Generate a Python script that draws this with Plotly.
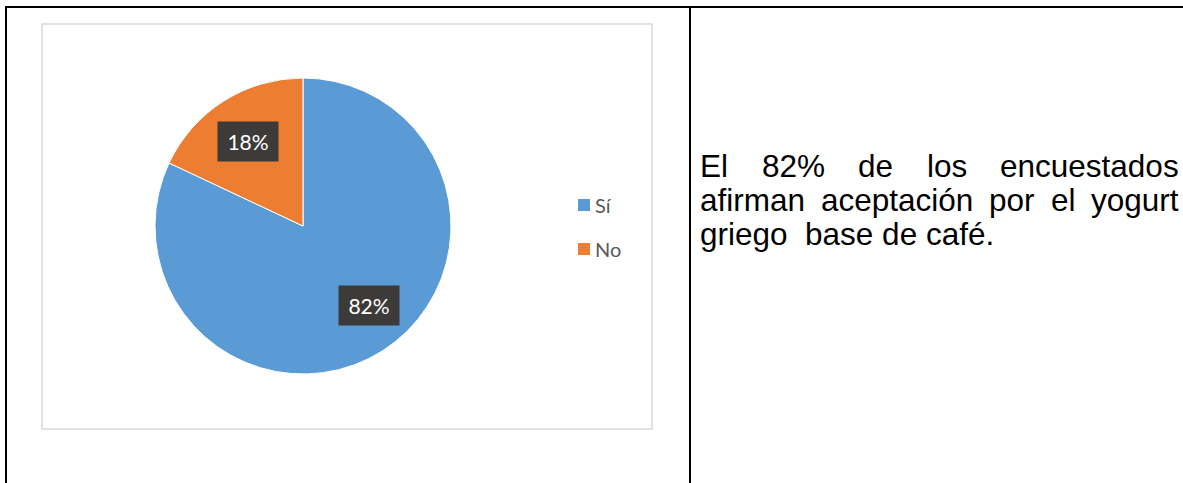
import plotly.graph_objects as go

W, H = 1183, 483

labels = ["Sí", "No"]
values = [82, 18]
colors = ["#5B9BD5", "#ED7D31"]

line1 = ["El", "82%", "de", "los", "encuestados"]
line2 = ["afirman", "aceptación", "por", "el", "yogurt"]
line3 = "griego  base de café."

# Arial / Liberation Sans advance widths (1/1000 em) for justifying the text
ARIAL = {
    "a": 556, "b": 556, "c": 500, "d": 556, "e": 556, "f": 278, "g": 556,
    "i": 222, "l": 222, "m": 833, "n": 556, "o": 556, "p": 556, "r": 333,
    "s": 500, "t": 278, "u": 556, "y": 500, "ó": 556, "é": 556, "E": 667,
    "8": 556, "2": 556, "%": 889, ".": 278, " ": 278,
}

# layout constants (pixels)
cx, cy, radius = 303, 226, 148
label_centers = [(369, 305), (248, 141)]  # where the data labels sit, per slice


def px(x):
    return x / W


def py(y):
    return 1 - y / H


def text_width(word, size):
    return sum(ARIAL.get(ch, 556) for ch in word) * size / 1000


fig = go.Figure()
fig.add_trace(
    go.Pie(
        labels=labels,
        values=values,
        sort=False,
        direction="clockwise",
        rotation=0,
        marker=dict(colors=colors, line=dict(color="white", width=1)),
        textinfo="none",
        hoverinfo="label+percent",
        showlegend=False,
        domain=dict(
            x=[px(cx - radius), px(cx + radius)],
            y=[py(cy + radius), py(cy - radius)],
        ),
    )
)

shapes = [
    # table borders
    dict(type="line", x0=px(5), x1=px(W), y0=py(7), y1=py(7), line=dict(color="black", width=2)),
    dict(type="line", x0=px(6), x1=px(6), y0=py(6), y1=py(H), line=dict(color="black", width=2)),
    dict(type="line", x0=px(690), x1=px(690), y0=py(6), y1=py(H), line=dict(color="black", width=2)),
    # chart area frame
    dict(type="rect", x0=px(42), x1=px(652), y0=py(429), y1=py(24),
         line=dict(color="#D9D9D9", width=1.5), fillcolor="rgba(0,0,0,0)", layer="below"),
]

annotations = []

# data labels on the slices
total = sum(values)
for value, (lx, ly) in zip(values, label_centers):
    annotations.append(
        dict(
            x=px(lx), y=py(ly), xref="paper", yref="paper",
            text=f"{round(value / total * 100)}%", showarrow=False,
            font=dict(family="Lato", size=21, color="white"),
            bgcolor="#3D3B3A", width=58, height=37,
            xanchor="center", yanchor="middle",
        )
    )

# legend
for i, (label, color) in enumerate(zip(labels, colors)):
    ycen = 205 + i * 44
    shapes.append(
        dict(type="rect", x0=px(578), x1=px(590), y0=py(ycen + 6), y1=py(ycen - 6),
             line=dict(width=0), fillcolor=color)
    )
    annotations.append(
        dict(x=px(593), y=py(ycen), xref="paper", yref="paper", text=label,
             showarrow=False, xanchor="left", yanchor="middle",
             font=dict(family="Lato", size=20, color="#595959"))
    )

# right-hand cell text, justified
font_size = 31.5
left, right = 698, 1177
text_font = dict(family="Liberation Sans, Arial", size=font_size, color="black")
for words, ycen in [(line1, 166), (line2, 200)]:
    widths = [text_width(w, font_size) for w in words]
    gap = (right - left - sum(widths)) / (len(words) - 1)
    x = left
    for word, wdt in zip(words, widths):
        annotations.append(
            dict(x=px(x), y=py(ycen), xref="paper", yref="paper", text=word,
                 showarrow=False, xanchor="left", yanchor="middle", font=text_font)
        )
        x += wdt + gap

annotations.append(
    dict(x=px(left), y=py(234), xref="paper", yref="paper",
         text=line3.replace("  ", "&nbsp; "), showarrow=False,
         xanchor="left", yanchor="middle", font=text_font)
)

fig.update_layout(
    width=W,
    height=H,
    margin=dict(l=0, r=0, t=0, b=0),
    paper_bgcolor="white",
    plot_bgcolor="white",
    shapes=shapes,
    annotations=annotations,
)

fig.write_html(
    "out.html",
    config={"displayModeBar": False},
    post_script="document.body.style.margin = '0';",
)
